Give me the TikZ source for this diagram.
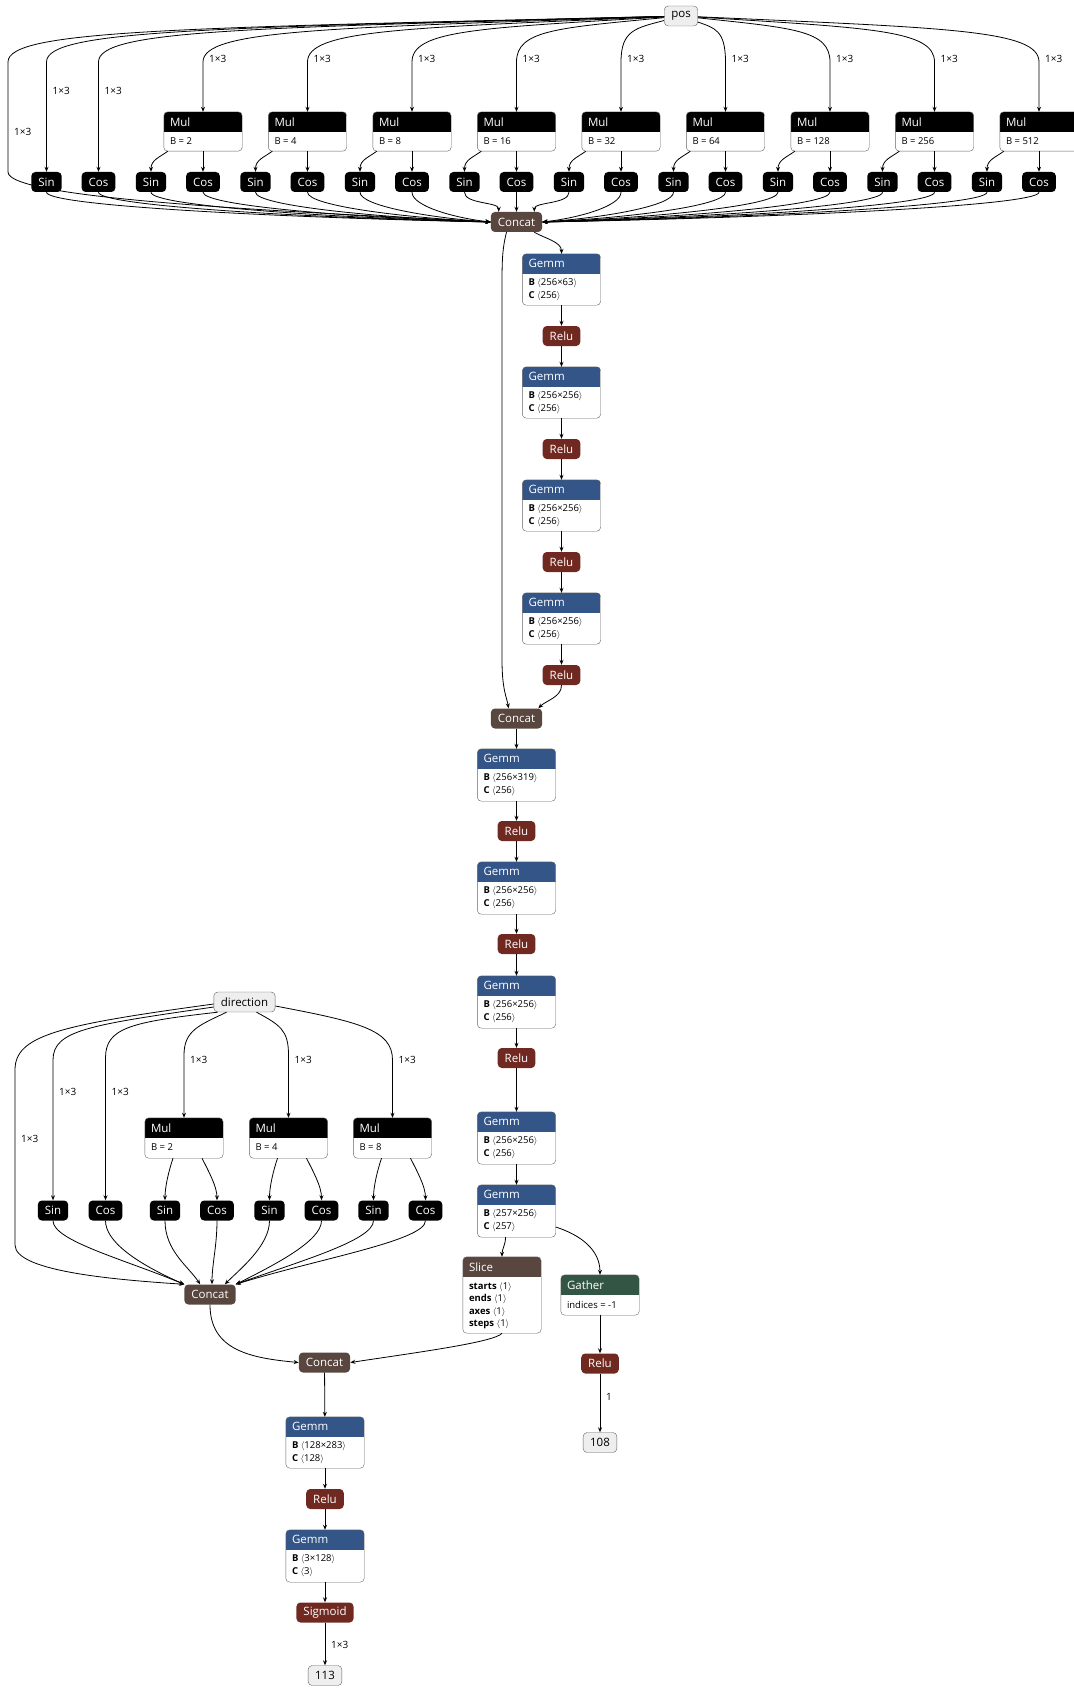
\documentclass[tikz,border=0pt]{standalone}
\usepackage{fontspec}
\setmainfont{Open Sans}
\usepackage{xcolor}
\usepackage{tikz}
\usetikzlibrary{positioning, calc, arrows.meta}

\definecolor{gemmblue}{RGB}{51,85,136}
\definecolor{relured}{RGB}{112,41,33}
\definecolor{catbrown}{RGB}{89,70,62}
\definecolor{gathgreen}{RGB}{51,85,68}
\definecolor{inpfill}{RGB}{238,238,238}
\definecolor{boxline}{RGB}{100,100,100}

\newcommand{\hdfont}{\fontsize{11.5}{13}\selectfont}
\newcommand{\atfont}{\fontsize{9.5}{11}\selectfont}
\newcommand{\lbfont}{\fontsize{10}{12}\selectfont}
\newcommand{\shp}[1]{$\langle$#1$\rangle$}

% box with a coloured title bar: name, x, top y, height, colour, title
\newcommand{\opbox}[6]{%
  \node[opframe, minimum height=#4pt] (#1) at (#2,{#3+#4/2}) {};
  \begin{scope}
    \clip[rounded corners=4pt] (#1.north west) rectangle (#1.south east);
    \fill[#5] (#1.north west) rectangle ([yshift=-20pt]#1.north east);
  \end{scope}
  \draw[boxline, rounded corners=4pt] (#1.north west) rectangle (#1.south east);
  \node[anchor=west, inner sep=0pt, text=white, font=\hdfont] at ([xshift=6pt,yshift=-10pt]#1.north west) {#6};
}

\begin{document}
\begin{tikzpicture}[x=1pt, y=-1pt,
    op/.style={rounded corners=4pt, inner xsep=7pt, inner ysep=0pt, minimum height=20pt, text=white, font=\hdfont},
    blk/.style={op, fill=black},
    act/.style={op, fill=relured},
    tens/.style={op, fill=catbrown},
    inp/.style={op, text=black, fill=inpfill, draw=boxline},
    opframe/.style={fill=white, rounded corners=4pt, inner sep=0pt, minimum width=78pt},
    attr/.style={anchor=west, inner sep=0pt, font=\atfont},
    link/.style={-{Stealth[length=5pt, width=4pt]}, line width=0.8pt},
    label distance=5pt,
    every label/.style={font=\lbfont, inner sep=1pt}]

    \useasboundingbox (0,0) rectangle (1073,1688);

    % the pos branch
    \node[inp] (pos) at (681,16) {pos};

    \opbox{mul1}{203}{112}{39}{black}{Mul}
    \node[attr] at ([xshift=6pt,yshift=-29pt]mul1.north west) {B = 2};
    \opbox{mul2}{307.5}{112}{39}{black}{Mul}
    \node[attr] at ([xshift=6pt,yshift=-29pt]mul2.north west) {B = 4};
    \opbox{mul3}{412}{112}{39}{black}{Mul}
    \node[attr] at ([xshift=6pt,yshift=-29pt]mul3.north west) {B = 8};
    \opbox{mul4}{516.5}{112}{39}{black}{Mul}
    \node[attr] at ([xshift=6pt,yshift=-29pt]mul4.north west) {B = 16};
    \opbox{mul5}{621}{112}{39}{black}{Mul}
    \node[attr] at ([xshift=6pt,yshift=-29pt]mul5.north west) {B = 32};
    \opbox{mul6}{725.5}{112}{39}{black}{Mul}
    \node[attr] at ([xshift=6pt,yshift=-29pt]mul6.north west) {B = 64};
    \opbox{mul7}{830}{112}{39}{black}{Mul}
    \node[attr] at ([xshift=6pt,yshift=-29pt]mul7.north west) {B = 128};
    \opbox{mul8}{934.5}{112}{39}{black}{Mul}
    \node[attr] at ([xshift=6pt,yshift=-29pt]mul8.north west) {B = 256};
    \opbox{mul9}{1039}{112}{39}{black}{Mul}
    \node[attr] at ([xshift=6pt,yshift=-29pt]mul9.north west) {B = 512};

    \node[blk] (sin0) at (46.5,182) {Sin};
    \node[blk] (cos0) at (98.5,182) {Cos};
    \node[blk] (sin1) at (151,182) {Sin};
    \node[blk] (cos1) at (203,182) {Cos};
    \node[blk] (sin2) at (255.5,182) {Sin};
    \node[blk] (cos2) at (307.5,182) {Cos};
    \node[blk] (sin3) at (360,182) {Sin};
    \node[blk] (cos3) at (412,182) {Cos};
    \node[blk] (sin4) at (464.5,182) {Sin};
    \node[blk] (cos4) at (516.5,182) {Cos};
    \node[blk] (sin5) at (569,182) {Sin};
    \node[blk] (cos5) at (621,182) {Cos};
    \node[blk] (sin6) at (673.5,182) {Sin};
    \node[blk] (cos6) at (725.5,182) {Cos};
    \node[blk] (sin7) at (778,182) {Sin};
    \node[blk] (cos7) at (830,182) {Cos};
    \node[blk] (sin8) at (882.5,182) {Sin};
    \node[blk] (cos8) at (934.5,182) {Cos};
    \node[blk] (sin9) at (987,182) {Sin};
    \node[blk] (cos9) at (1039,182) {Cos};

    \node[tens] (cat1) at (516.5,222) {Concat};

    % pos fans out
    \draw[link] (pos) .. controls (176,28) and (8,30) .. (8,62) -- (8,172) .. controls (8,200) and (300,212) .. (cat1.west);
    \draw[link] (pos) .. controls (205,28) and (46.5,30) .. (46.5,62) -- (sin0.north);
    \draw[link] (pos) .. controls (244,28) and (98.5,30) .. (98.5,62) -- (cos0.north);
    \draw[link] (pos) .. controls (322.5,28) and (203,30) .. (203,62) -- (mul1.north);
    \draw[link] (pos) .. controls (401,28) and (307.5,30) .. (307.5,62) -- (mul2.north);
    \draw[link] (pos) .. controls (479,28) and (412,30) .. (412,62) -- (mul3.north);
    \draw[link] (pos) .. controls (557.5,28) and (516.5,30) .. (516.5,62) -- (mul4.north);
    \draw[link] (pos) .. controls (636,28) and (621,30) .. (621,62) -- (mul5.north);
    \draw[link] (pos) .. controls (714.5,28) and (725.5,30) .. (725.5,62) -- (mul6.north);
    \draw[link] (pos) .. controls (792.5,28) and (830,30) .. (830,62) -- (mul7.north);
    \draw[link] (pos) .. controls (871,28) and (934.5,30) .. (934.5,62) -- (mul8.north);
    \draw[link] (pos) .. controls (949.5,28) and (1039,30) .. (1039,62) -- (mul9.north);

    \coordinate[label=right:{1×3}] (lp0) at (8,132);
    \coordinate[label=right:{1×3}] (lps) at (46.5,91);
    \coordinate[label=right:{1×3}] (lpc) at (98.5,91);
    \coordinate[label=right:{1×3}] (lp1) at (203,59);
    \coordinate[label=right:{1×3}] (lp2) at (307.5,59);
    \coordinate[label=right:{1×3}] (lp3) at (412,59);
    \coordinate[label=right:{1×3}] (lp4) at (516.5,59);
    \coordinate[label=right:{1×3}] (lp5) at (621,59);
    \coordinate[label=right:{1×3}] (lp6) at (725.5,59);
    \coordinate[label=right:{1×3}] (lp7) at (830,59);
    \coordinate[label=right:{1×3}] (lp8) at (934.5,59);
    \coordinate[label=right:{1×3}] (lp9) at (1039,59);

    % Mul into Sin and Cos
    \draw[link] ([xshift=4pt]mul1.south west) .. controls +(-8,6) and +(0,-12) .. (sin1.north);
    \draw[link] ([xshift=4pt]mul2.south west) .. controls +(-8,6) and +(0,-12) .. (sin2.north);
    \draw[link] ([xshift=4pt]mul3.south west) .. controls +(-8,6) and +(0,-12) .. (sin3.north);
    \draw[link] ([xshift=4pt]mul4.south west) .. controls +(-8,6) and +(0,-12) .. (sin4.north);
    \draw[link] ([xshift=4pt]mul5.south west) .. controls +(-8,6) and +(0,-12) .. (sin5.north);
    \draw[link] ([xshift=4pt]mul6.south west) .. controls +(-8,6) and +(0,-12) .. (sin6.north);
    \draw[link] ([xshift=4pt]mul7.south west) .. controls +(-8,6) and +(0,-12) .. (sin7.north);
    \draw[link] ([xshift=4pt]mul8.south west) .. controls +(-8,6) and +(0,-12) .. (sin8.north);
    \draw[link] ([xshift=4pt]mul9.south west) .. controls +(-8,6) and +(0,-12) .. (sin9.north);
    \draw[link] (mul1) -- (cos1);
    \draw[link] (mul2) -- (cos2);
    \draw[link] (mul3) -- (cos3);
    \draw[link] (mul4) -- (cos4);
    \draw[link] (mul5) -- (cos5);
    \draw[link] (mul6) -- (cos6);
    \draw[link] (mul7) -- (cos7);
    \draw[link] (mul8) -- (cos8);
    \draw[link] (mul9) -- (cos9);

    % everything into the first Concat
    \draw[link] (sin0.south) .. controls +(0,14) and +(-200,-4) .. (cat1.west);
    \draw[link] (cos0.south) .. controls +(0,14) and +(-177,-4) .. (cat1.west);
    \draw[link] (sin1.south) .. controls +(0,14) and +(-153,-4) .. (cat1.west);
    \draw[link] (cos1.south) .. controls +(0,14) and +(-130,-4) .. (cat1.west);
    \draw[link] (sin2.south) .. controls +(0,14) and +(-106,-4) .. (cat1.west);
    \draw[link] (cos2.south) .. controls +(0,14) and +(-83,-4) .. (cat1.west);
    \draw[link] (sin3.south) .. controls +(0,14) and +(-59,-4) .. (cat1.west);
    \draw[link] (cos3.south) .. controls +(0,14) and +(-36,-4) .. (cat1.west);
    \draw[link] (sin4.south) .. controls +(0,12) and +(0,-10) .. ([xshift=8pt]cat1.north west);
    \draw[link] (cos4) -- (cat1);
    \draw[link] (sin5.south) .. controls +(0,12) and +(0,-10) .. ([xshift=-8pt]cat1.north east);
    \draw[link] (cos5.south) .. controls +(0,14) and +(36,-4) .. (cat1.east);
    \draw[link] (sin6.south) .. controls +(0,14) and +(59,-4) .. (cat1.east);
    \draw[link] (cos6.south) .. controls +(0,14) and +(83,-4) .. (cat1.east);
    \draw[link] (sin7.south) .. controls +(0,14) and +(106,-4) .. (cat1.east);
    \draw[link] (cos7.south) .. controls +(0,14) and +(130,-4) .. (cat1.east);
    \draw[link] (sin8.south) .. controls +(0,14) and +(153,-4) .. (cat1.east);
    \draw[link] (cos8.south) .. controls +(0,14) and +(177,-4) .. (cat1.east);
    \draw[link] (sin9.south) .. controls +(0,14) and +(200,-4) .. (cat1.east);
    \draw[link] (cos9.south) .. controls +(0,14) and +(224,-4) .. (cat1.east);

    % right column
    \opbox{gA1}{561.5}{254}{51}{gemmblue}{Gemm}
    \node[attr] at ([xshift=6pt,yshift=-29pt]gA1.north west) {\textbf{B}\ \shp{256×63}};
    \node[attr] at ([xshift=6pt,yshift=-42pt]gA1.north west) {\textbf{C}\ \shp{256}};
    \node[act] (rA1) at (561.5,336) {Relu};
    \opbox{gA2}{561.5}{367}{51}{gemmblue}{Gemm}
    \node[attr] at ([xshift=6pt,yshift=-29pt]gA2.north west) {\textbf{B}\ \shp{256×256}};
    \node[attr] at ([xshift=6pt,yshift=-42pt]gA2.north west) {\textbf{C}\ \shp{256}};
    \node[act] (rA2) at (561.5,449) {Relu};
    \opbox{gA3}{561.5}{480}{51}{gemmblue}{Gemm}
    \node[attr] at ([xshift=6pt,yshift=-29pt]gA3.north west) {\textbf{B}\ \shp{256×256}};
    \node[attr] at ([xshift=6pt,yshift=-42pt]gA3.north west) {\textbf{C}\ \shp{256}};
    \node[act] (rA3) at (561.5,562) {Relu};
    \opbox{gA4}{561.5}{593}{51}{gemmblue}{Gemm}
    \node[attr] at ([xshift=6pt,yshift=-29pt]gA4.north west) {\textbf{B}\ \shp{256×256}};
    \node[attr] at ([xshift=6pt,yshift=-42pt]gA4.north west) {\textbf{C}\ \shp{256}};
    \node[act] (rA4) at (561.5,675) {Relu};

    \draw[link] ([xshift=-8pt]cat1.south east) .. controls +(10,6) and +(0,-12) .. (gA1.north);
    \draw[link] (gA1) -- (rA1);
    \draw[link] (rA1) -- (gA2);
    \draw[link] (gA2) -- (rA2);
    \draw[link] (rA2) -- (gA3);
    \draw[link] (gA3) -- (rA3);
    \draw[link] (rA3) -- (gA4);
    \draw[link] (gA4) -- (rA4);

    % middle column
    \node[tens] (cat2) at (516.5,718.5) {Concat};
    \draw[link] ([xshift=-10pt]cat1.south) .. controls (502,250) and (502,262) .. (502,290) -- (502,660) .. controls (502,690) and (507,698) .. ([xshift=-8pt]cat2.north);
    \draw[link] (rA4.south) .. controls +(0,12) and +(8,-8) .. ([xshift=-4pt]cat2.north east);

    \opbox{gM1}{516.5}{749}{52}{gemmblue}{Gemm}
    \node[attr] at ([xshift=6pt,yshift=-29pt]gM1.north west) {\textbf{B}\ \shp{256×319}};
    \node[attr] at ([xshift=6pt,yshift=-42pt]gM1.north west) {\textbf{C}\ \shp{256}};
    \node[act] (rM1) at (516.5,831) {Relu};
    \opbox{gM2}{516.5}{862}{52}{gemmblue}{Gemm}
    \node[attr] at ([xshift=6pt,yshift=-29pt]gM2.north west) {\textbf{B}\ \shp{256×256}};
    \node[attr] at ([xshift=6pt,yshift=-42pt]gM2.north west) {\textbf{C}\ \shp{256}};
    \node[act] (rM2) at (516.5,944) {Relu};
    \opbox{gM3}{516.5}{976}{52}{gemmblue}{Gemm}
    \node[attr] at ([xshift=6pt,yshift=-29pt]gM3.north west) {\textbf{B}\ \shp{256×256}};
    \node[attr] at ([xshift=6pt,yshift=-42pt]gM3.north west) {\textbf{C}\ \shp{256}};
    \node[act] (rM3) at (516.5,1058) {Relu};
    \opbox{gM4}{516.5}{1112}{52}{gemmblue}{Gemm}
    \node[attr] at ([xshift=6pt,yshift=-29pt]gM4.north west) {\textbf{B}\ \shp{256×256}};
    \node[attr] at ([xshift=6pt,yshift=-42pt]gM4.north west) {\textbf{C}\ \shp{256}};
    \opbox{gM5}{516.5}{1185}{52}{gemmblue}{Gemm}
    \node[attr] at ([xshift=6pt,yshift=-29pt]gM5.north west) {\textbf{B}\ \shp{257×256}};
    \node[attr] at ([xshift=6pt,yshift=-42pt]gM5.north west) {\textbf{C}\ \shp{257}};

    \draw[link] (cat2) -- (gM1);
    \draw[link] (gM1) -- (rM1);
    \draw[link] (rM1) -- (gM2);
    \draw[link] (gM2) -- (rM2);
    \draw[link] (rM2) -- (gM3);
    \draw[link] (gM3) -- (rM3);
    \draw[link] (rM3) -- (gM4);
    \draw[link] (gM4) -- (gM5);

    % Slice and Gather
    \opbox{slice}{502}{1257}{76}{catbrown}{Slice}
    \node[attr] at ([xshift=6pt,yshift=-30pt]slice.north west) {\textbf{starts}\ \shp{1}};
    \node[attr] at ([xshift=6pt,yshift=-42.5pt]slice.north west) {\textbf{ends}\ \shp{1}};
    \node[attr] at ([xshift=6pt,yshift=-55pt]slice.north west) {\textbf{axes}\ \shp{1}};
    \node[attr] at ([xshift=6pt,yshift=-67.5pt]slice.north west) {\textbf{steps}\ \shp{1}};
    \opbox{gath}{600}{1275}{40}{gathgreen}{Gather}
    \node[attr] at ([xshift=6pt,yshift=-30pt]gath.north west) {indices = -1};
    \node[act] (rG) at (600,1363.5) {Relu};
    \node[inp] (o108) at (600,1442.5) {108};

    \draw[link] ([xshift=-11pt]gM5.south) .. controls +(0,8) and +(0,-8) .. (slice.north);
    \draw[link] ([yshift=-16pt]gM5.east) .. controls +(25,8) and +(0,-25) .. (gath.north);
    \draw[link] (gath) -- (rG);
    \draw[link] (rG) -- (o108);
    \coordinate[label=right:{1}] (lg) at (600,1397);

    % the direction branch
    \node[inp] (dir) at (244.5,1002) {direction};
    \opbox{mulL1}{184}{1118}{40}{black}{Mul}
    \node[attr] at ([xshift=6pt,yshift=-29pt]mulL1.north west) {B = 2};
    \opbox{mulL2}{288.5}{1118}{40}{black}{Mul}
    \node[attr] at ([xshift=6pt,yshift=-29pt]mulL2.north west) {B = 4};
    \opbox{mulL3}{392.5}{1118}{40}{black}{Mul}
    \node[attr] at ([xshift=6pt,yshift=-29pt]mulL3.north west) {B = 8};

    \node[blk] (sinL0) at (53,1210.5) {Sin};
    \node[blk] (cosL0) at (105.5,1210.5) {Cos};
    \node[blk] (sinL1) at (165,1210.5) {Sin};
    \node[blk] (cosL1) at (217,1210.5) {Cos};
    \node[blk] (sinL2) at (269.5,1210.5) {Sin};
    \node[blk] (cosL2) at (321.5,1210.5) {Cos};
    \node[blk] (sinL3) at (373.5,1210.5) {Sin};
    \node[blk] (cosL3) at (425.5,1210.5) {Cos};
    \node[tens] (catL) at (210,1294.5) {Concat};

    \draw[link] ([yshift=-2pt]dir.west) .. controls (60,1025) and (15,1035) .. (15,1070) -- (15,1245) .. controls (15,1272) and (120,1280) .. (catL.north west);
    \draw[link] ([yshift=-5pt]dir.west) .. controls (90,1025) and (53,1030) .. (53,1060) -- (sinL0.north);
    \draw[link] ([xshift=4pt]dir.south west) .. controls (130,1022) and (105.5,1028) .. (105.5,1058) -- (cosL0.north);
    \draw[link] ([xshift=-18pt]dir.south) .. controls (200,1025) and (184,1030) .. (184,1055) -- (mulL1.north);
    \draw[link] ([xshift=12pt]dir.south) .. controls (280,1025) and (288.5,1030) .. (288.5,1055) -- (mulL2.north);
    \draw[link] ([yshift=-4pt]dir.east) .. controls (360,1022) and (392.5,1030) .. (392.5,1060) -- (mulL3.north);

    \coordinate[label=right:{1×3}] (ld0) at (15,1139);
    \coordinate[label=right:{1×3}] (lds) at (53,1092);
    \coordinate[label=right:{1×3}] (ldc) at (105.5,1092);
    \coordinate[label=right:{1×3}] (ld1) at (184,1060);
    \coordinate[label=right:{1×3}] (ld2) at (288.5,1060);
    \coordinate[label=right:{1×3}] (ld3) at (392.5,1060);

    \draw[link] ([xshift=-11pt]mulL1.south) .. controls +(-4,12) and +(0,-14) .. (sinL1.north);
    \draw[link] ([xshift=18pt]mulL1.south) .. controls +(6,12) and +(0,-14) .. (cosL1.north);
    \draw[link] ([xshift=-11pt]mulL2.south) .. controls +(-4,12) and +(0,-14) .. (sinL2.north);
    \draw[link] ([xshift=18pt]mulL2.south) .. controls +(6,12) and +(0,-14) .. (cosL2.north);
    \draw[link] ([xshift=-11pt]mulL3.south) .. controls +(-4,12) and +(0,-14) .. (sinL3.north);
    \draw[link] ([xshift=18pt]mulL3.south) .. controls +(6,12) and +(0,-14) .. (cosL3.north);

    \draw[link] (sinL0.south) .. controls +(0,20) and +(-60,-25) .. (catL.north west);
    \draw[link] (cosL0.south) .. controls +(0,20) and +(-50,-22) .. (catL.north west);
    \draw[link] (sinL1.south) .. controls +(0,30) and +(-12,-18) .. ([xshift=16pt]catL.north west);
    \draw[link] (cosL1.south) .. controls +(0,25) and +(0,-20) .. ([xshift=2pt]catL.north);
    \draw[link] (sinL2.south) .. controls +(0,25) and +(15,-15) .. ([xshift=-11pt]catL.north east);
    \draw[link] (cosL2.south) .. controls +(0,20) and +(40,-20) .. (catL.north east);
    \draw[link] (sinL3.south) .. controls +(0,20) and +(60,-22) .. (catL.north east);
    \draw[link] (cosL3.south) .. controls +(0,20) and +(80,-25) .. (catL.north east);

    % the bottom column
    \node[tens] (cat3) at (324.5,1362.5) {Concat};
    \draw[link] (catL.south) .. controls (210,1350) and (250,1358) .. (cat3.west);
    \draw[link] (slice.south) .. controls (495,1342) and (420,1352) .. (cat3.east);

    \opbox{gN1}{325}{1417}{51}{gemmblue}{Gemm}
    \node[attr] at ([xshift=6pt,yshift=-29pt]gN1.north west) {\textbf{B}\ \shp{128×283}};
    \node[attr] at ([xshift=6pt,yshift=-42pt]gN1.north west) {\textbf{C}\ \shp{128}};
    \node[act] (rN) at (325,1499) {Relu};
    \opbox{gN2}{325}{1530}{52}{gemmblue}{Gemm}
    \node[attr] at ([xshift=6pt,yshift=-29pt]gN2.north west) {\textbf{B}\ \shp{3×128}};
    \node[attr] at ([xshift=6pt,yshift=-42pt]gN2.north west) {\textbf{C}\ \shp{3}};
    \node[act] (sig) at (325,1612.5) {Sigmoid};
    \node[inp] (o113) at (325,1675.5) {113};

    \draw[link] (cat3) -- (gN1);
    \draw[link] (gN1) -- (rN);
    \draw[link] (rN) -- (gN2);
    \draw[link] (gN2) -- (sig);
    \draw[link] (sig) -- (o113);
    \coordinate[label=right:{1×3}] (lo) at (325,1645);
\end{tikzpicture}
\end{document}
